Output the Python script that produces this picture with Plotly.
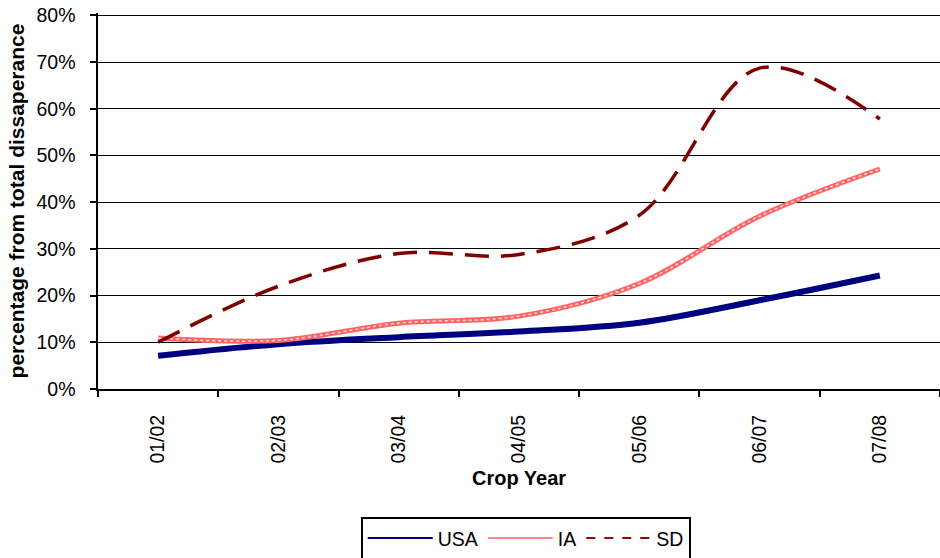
import plotly.graph_objects as go

categories = ["01/02", "02/03", "03/04", "04/05", "05/06", "06/07", "07/08"]
usa = [7.1, 9.6, 11.1, 12.3, 14.2, 19.0, 24.3]
ia = [10.9, 10.4, 14.1, 15.6, 22.6, 37.0, 47.1]
sd = [10.0, 22.0, 29.0, 28.8, 37.2, 68.7, 57.8]
y_ticks = [0, 10, 20, 30, 40, 50, 60, 70, 80]
y_labels = [f"{v}%" for v in y_ticks]

FONT = "Liberation Sans, Arial, sans-serif"
NB = "\u00a0"

fig = go.Figure()

# real traces (no legend)
fig.add_trace(go.Scatter(x=categories, y=usa, mode="lines", showlegend=False,
                         line=dict(color="#000080", width=6, shape="spline", smoothing=1)))
fig.add_trace(go.Scatter(x=categories, y=ia, mode="lines", showlegend=False,
                         line=dict(color="#ff6464", width=5, shape="spline", smoothing=1)))
fig.add_trace(go.Scatter(x=categories, y=ia, mode="lines", showlegend=False,
                         line=dict(color="rgba(255,225,225,0.9)", width=1.6, dash="dot",
                                   shape="spline", smoothing=1)))
fig.add_trace(go.Scatter(x=categories, y=sd, mode="lines", showlegend=False,
                         line=dict(color="#800000", width=3.5, dash="24px,12px",
                                   shape="spline", smoothing=1)))

# legend entries
fig.add_trace(go.Scatter(x=[categories[0]], y=[None], mode="lines", name="USA",
                         line=dict(color="#000080", width=2)))
fig.add_trace(go.Scatter(x=[categories[0]], y=[None], mode="lines", name="IA",
                         line=dict(color="#ff8a8a", width=2)))
fig.add_trace(go.Scatter(x=[categories[0]], y=[None], mode="lines", name="SD",
                         line=dict(color="#a00000", width=2, dash="dash")))

fig.update_layout(
    width=940, height=558,
    margin=dict(l=98, r=0, t=12.7, b=169, pad=0, autoexpand=False),
    paper_bgcolor="white", plot_bgcolor="white",
    font=dict(family=FONT, size=19.5, color="black"),
    showlegend=True,
    legend=dict(orientation="h", x=0.508, xanchor="center", y=-0.34, yanchor="top",
                bordercolor="black", borderwidth=2, bgcolor="white",
                font=dict(size=19.5, family=FONT), itemwidth=65,
                tracegroupgap=0),
    xaxis=dict(
        type="category", categoryorder="array", categoryarray=categories,
        range=[-0.5, 6.5], tickson="boundaries", ticks="outside", ticklen=6,
        tickcolor="black", tickwidth=1.5, tickangle=-90,
        tickmode="array", tickvals=categories,
        ticktext=[c + NB * 3 for c in categories],
        showline=True, linecolor="black", linewidth=1.5,
        showgrid=False, zeroline=False, automargin=False,
        tickfont=dict(size=19.5, family=FONT),
        title=dict(text="<b>Crop Year</b>", font=dict(size=20, family=FONT), standoff=8),
    ),
    yaxis=dict(
        range=[0, 80.5], tickmode="array", tickvals=y_ticks,
        ticktext=[t + NB * 2 for t in y_labels],
        ticklabeloverflow="allow", automargin=False,
        ticks="outside", ticklen=6, tickcolor="black", tickwidth=1.5,
        showline=True, linecolor="black", linewidth=1.5,
        showgrid=True, gridcolor="black", gridwidth=1.2,
        zeroline=False,
        tickfont=dict(size=19.5, family=FONT),
        title=dict(text="<b>percentage from total dissaperance</b>",
                   font=dict(size=21, family=FONT), standoff=6),
    ),
)

fig.write_html("out.html", config={"displayModeBar": False},
               post_script="document.body.style.margin='0';")
